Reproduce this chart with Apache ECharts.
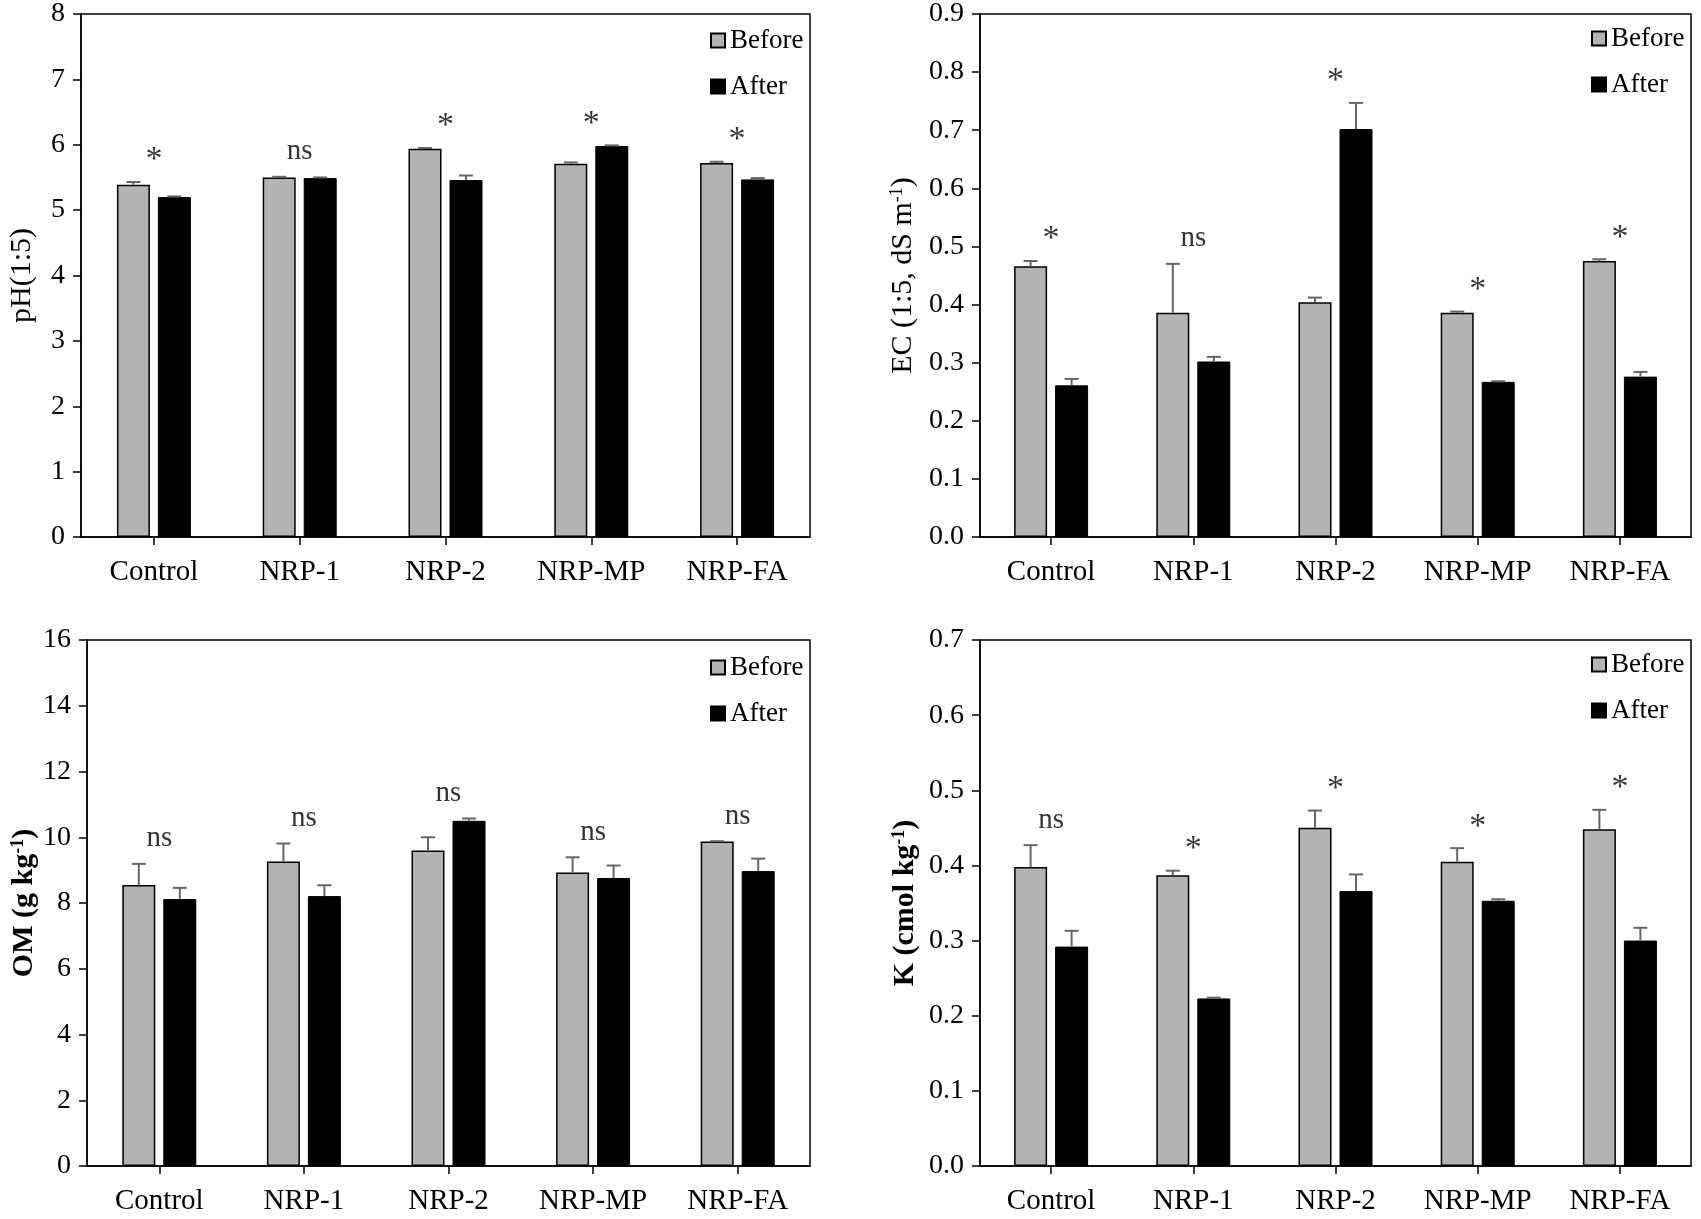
<!DOCTYPE html>
<html>
<head>
<meta charset="utf-8">
<style>
  html, body { margin: 0; padding: 0; background: #fff; }
  #chart { width: 1701px; height: 1219px; }
</style>
<script src="https://cdn.jsdelivr.net/npm/echarts@6/dist/echarts.min.js"></script>
</head>
<body>
<div id="chart"></div>
<script>
// treatments
var cats = ['Control', 'NRP-1', 'NRP-2', 'NRP-MP', 'NRP-FA'];

// pH (1:5)
var phBefore = [5.39, 5.50, 5.94, 5.71, 5.72];
var phBeforeErr = [0.04, 0.01, 0.01, 0.02, 0.02];
var phAfter = [5.20, 5.49, 5.46, 5.98, 5.47];
var phAfterErr = [0.01, 0.01, 0.07, 0.01, 0.02];
var phSig = ['*', 'ns', '*', '*', '*'];

// EC (1:5, dS m-1)
var ecBefore = [0.466, 0.386, 0.404, 0.386, 0.475];
var ecBeforeErr = [0.009, 0.084, 0.008, 0.002, 0.003];
var ecAfter = [0.261, 0.302, 0.702, 0.267, 0.276];
var ecAfterErr = [0.011, 0.008, 0.045, 0.001, 0.008];
var ecSig = ['*', 'ns', '*', '*', '*'];

// OM (g kg-1)
var omBefore = [8.55, 9.26, 9.60, 8.93, 9.87];
var omBeforeErr = [0.64, 0.55, 0.40, 0.46, 0.01];
var omAfter = [8.12, 8.21, 10.50, 8.76, 8.97];
var omAfterErr = [0.34, 0.33, 0.07, 0.38, 0.38];
var omSig = ['ns', 'ns', 'ns', 'ns', 'ns'];

// K (cmol kg-1)
var kBefore = [0.398, 0.387, 0.450, 0.405, 0.448];
var kBeforeErr = [0.029, 0.006, 0.023, 0.018, 0.026];
var kAfter = [0.292, 0.223, 0.366, 0.353, 0.300];
var kAfterErr = [0.021, 0.001, 0.022, 0.002, 0.017];
var kSig = ['ns', '*', '*', '*', '*'];

var FONT = "'Liberation Serif', 'Times New Roman', serif";
var BAR_W = 33;
var BAR_GAP = 8;
var HALF = (BAR_W + BAR_GAP) / 2;

var panels = [
  {name: 'pH(1:5)', bold: false, max: 8, interval: 1, dec: 0, gap: 44,
   before: phBefore, beforeErr: phBeforeErr, after: phAfter, afterErr: phAfterErr, sig: phSig,
   grid: {left: 81, top: 12, width: 729, height: 525}, legend: {left: 705, top: 22}},
  {name: 'EC (1:5, dS m{sup|-1})', bold: false, max: 0.9, interval: 0.1, dec: 1, gap: 62,
   before: ecBefore, beforeErr: ecBeforeErr, after: ecAfter, afterErr: ecAfterErr, sig: ecSig,
   grid: {left: 980, top: 12, width: 711, height: 525}, legend: {left: 1586, top: 20}},
  {name: 'OM (g kg{sup|-1})', bold: true, max: 16, interval: 2, dec: 0, gap: 46,
   before: omBefore, beforeErr: omBeforeErr, after: omAfter, afterErr: omAfterErr, sig: omSig,
   grid: {left: 87, top: 640, width: 723, height: 526}, legend: {left: 705, top: 649}},
  {name: 'K (cmol kg{sup|-1})', bold: true, max: 0.7, interval: 0.1, dec: 1, gap: 60,
   before: kBefore, beforeErr: kBeforeErr, after: kAfter, afterErr: kAfterErr, sig: kSig,
   grid: {left: 980, top: 640, width: 711, height: 526}, legend: {left: 1586, top: 646}}
];

function errorBars(offset) {
  return function (params, api) {
    var i = api.value(0), v = api.value(1), e = api.value(2);
    var base = api.coord([i, v]);
    var top = api.coord([i, v + e]);
    var x = base[0] + offset;
    var st = {stroke: '#666', lineWidth: 2};
    return {
      type: 'group',
      children: [
        {type: 'line', shape: {x1: x, y1: base[1], x2: x, y2: top[1]}, style: st},
        {type: 'line', shape: {x1: x - 7, y1: top[1], x2: x + 7, y2: top[1]}, style: st}
      ]
    };
  };
}

var option = {
  backgroundColor: '#fff',
  animation: false,
  textStyle: {fontFamily: FONT, color: '#000'},
  grid: [], xAxis: [], yAxis: [], series: [], legend: []
};

panels.forEach(function (p, k) {
  option.grid.push(Object.assign({show: true, borderColor: '#000', borderWidth: 1.5, backgroundColor: 'transparent'}, p.grid));

  option.xAxis.push({
    type: 'category', gridIndex: k, data: cats,
    axisLine: {lineStyle: {color: '#000', width: 1.5}},
    axisTick: {show: true, alignWithLabel: true, length: 8, lineStyle: {color: '#000', width: 1.5}},
    axisLabel: {color: '#000', fontSize: 29, fontFamily: FONT, margin: 21}
  });

  option.yAxis.push({
    type: 'value', gridIndex: k, min: 0, max: p.max, interval: p.interval,
    name: p.name, nameLocation: 'middle', nameRotate: 90, nameGap: p.gap,
    nameTextStyle: {
      color: '#000', fontSize: 30, fontFamily: FONT, fontWeight: p.bold ? 'bold' : 'normal',
      rich: {sup: {fontSize: 18, fontFamily: FONT, fontWeight: p.bold ? 'bold' : 'normal', verticalAlign: 'top', color: '#000'}}
    },
    axisLine: {show: true, lineStyle: {color: '#000', width: 1.5}},
    axisTick: {show: true, length: 8, lineStyle: {color: '#000', width: 1.5}},
    axisLabel: {
      color: '#000', fontSize: 28, fontFamily: FONT, margin: 16,
      formatter: function (v) { return v.toFixed(p.dec); }
    },
    splitLine: {show: false}
  });

  option.series.push({
    name: 'Before', type: 'bar', xAxisIndex: k, yAxisIndex: k,
    data: p.before, barWidth: BAR_W, barGap: (BAR_GAP / BAR_W * 100) + '%',
    itemStyle: {color: '#b3b3b3', borderColor: '#000', borderWidth: 1.5}
  });
  option.series.push({
    name: 'After', type: 'bar', xAxisIndex: k, yAxisIndex: k,
    data: p.after, barWidth: BAR_W,
    itemStyle: {color: '#000', borderColor: '#000', borderWidth: 1}
  });

  option.series.push({
    type: 'custom', xAxisIndex: k, yAxisIndex: k, z: 5,
    renderItem: errorBars(-HALF),
    data: p.before.map(function (v, i) { return [i, v, p.beforeErr[i]]; })
  });
  option.series.push({
    type: 'custom', xAxisIndex: k, yAxisIndex: k, z: 5,
    renderItem: errorBars(HALF),
    data: p.after.map(function (v, i) { return [i, v, p.afterErr[i]]; })
  });

  // significance marks above each pair
  option.series.push({
    type: 'scatter', xAxisIndex: k, yAxisIndex: k, z: 6,
    symbolSize: 1, itemStyle: {color: 'rgba(0,0,0,0)'},
    label: {
      show: true, position: 'top', color: '#000', fontFamily: FONT,
      formatter: function (q) { return q.value[2]; }
    },
    data: p.sig.map(function (s, i) {
      var top = Math.max(p.before[i] + p.beforeErr[i], p.after[i] + p.afterErr[i]);
      var star = s === '*';
      return {value: [i, top, s], label: {fontSize: star ? 34 : 29, distance: star ? 4 : 10}};
    })
  });

  option.legend.push({
    left: p.legend.left, top: p.legend.top, orient: 'vertical',
    data: ['Before', 'After'], icon: 'rect', itemWidth: 14, itemHeight: 14, itemGap: 19,
    selectedMode: false,
    textStyle: {color: '#000', fontSize: 27, fontFamily: FONT, lineHeight: 27}
  });
});

var chart = echarts.init(document.getElementById('chart'));
chart.setOption(option);
</script>
</body>
</html>
